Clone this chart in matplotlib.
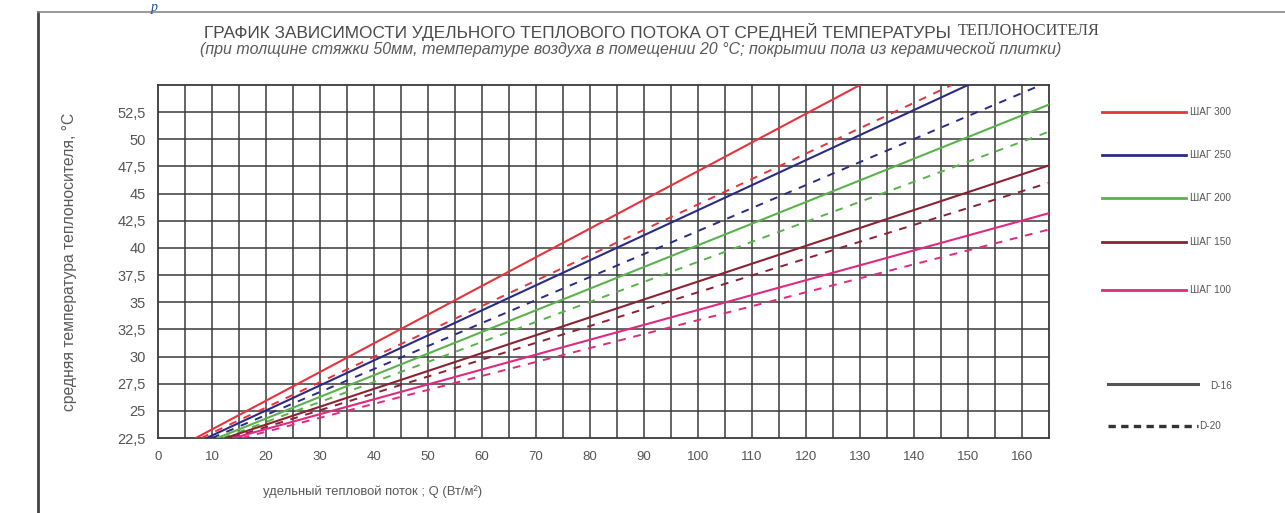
import matplotlib
matplotlib.use("Agg")
import matplotlib.pyplot as plt
from matplotlib.lines import Line2D

# ---- data ----
step_labels = ["ШАГ 300", "ШАГ 250", "ШАГ 200", "ШАГ 150", "ШАГ 100"]
colors = ["#e8323c", "#2b2b86", "#58b34a", "#8a2232", "#e2287f"]
# D-16 (solid): flux Q at two read points, and matching temperatures
d16_q = [[7.0, 130.0], [9.0, 150.0], [11.0, 165.0], [12.5, 165.0], [14.0, 165.0]]
d16_t = [[22.5, 55.0], [22.5, 55.0], [22.5, 53.2], [22.5, 47.6], [22.5, 43.2]]
# D-20 (dashed)
d20_q = [[8.0, 147.0], [10.0, 163.5], [12.0, 165.0], [13.5, 165.0], [15.5, 165.0]]
d20_t = [[22.5, 55.0], [22.5, 55.0], [22.5, 50.7], [22.5, 46.0], [22.5, 41.7]]
pipe_labels = ["D-16", "D-20"]

x_ticks = list(range(0, 161, 10))
y_ticks = [22.5, 25, 27.5, 30, 32.5, 35, 37.5, 40, 42.5, 45, 47.5, 50, 52.5]
y_tick_labels = ["22,5", "25", "27,5", "30", "32,5", "35", "37,5", "40", "42,5",
                 "45", "47,5", "50", "52,5"]

title_main = "ГРАФИК ЗАВИСИМОСТИ УДЕЛЬНОГО ТЕПЛОВОГО ПОТОКА ОТ СРЕДНЕЙ ТЕМПЕРАТУРЫ"
title_end = "ТЕПЛОНОСИТЕЛЯ"
subtitle = "(при толщине стяжки 50мм, температуре воздуха в помещении 20 °С; покрытии пола из керамической плитки)"
x_label = "удельный тепловой поток ; Q (Вт/м²)"
y_label = "средняя температура теплоносителя, °С"

W, H = 1285, 513
fig = plt.figure(figsize=(W / 100, H / 100), dpi=100)
fig.patch.set_facecolor("white")
renderer = fig.canvas.get_renderer()


def fx(px):
    return px / W


def fy(py):
    return 1 - py / H


def fit_text(x0, y0, s, width_px, rotation=0, **kw):
    """Place text and scale its font size so it spans width_px pixels."""
    t = fig.text(fx(x0), fy(y0), s, rotation=rotation, fontsize=10, **kw)
    bb = t.get_window_extent(renderer=renderer)
    cur = bb.height if rotation == 90 else bb.width
    t.set_fontsize(10 * width_px / cur)
    return t


ax = fig.add_axes([fx(158), fy(438), fx(1049) - fx(158), fy(85) - fy(438)])
ax.set_xlim(0, 165)
ax.set_ylim(22.5, 55)

# grid
for v in range(5, 165, 5):
    ax.axvline(v, color="#3a3a3a", lw=1.1, zorder=1)
for v in [25 + 2.5 * i for i in range(12)]:
    ax.axhline(v, color="#3a3a3a", lw=1.1, zorder=1)
for s in ax.spines.values():
    s.set_color("#3a3a3a")
    s.set_linewidth(1.3)

for i in range(5):
    ax.plot(d16_q[i], d16_t[i], color=colors[i], lw=1.5, zorder=3)
    ax.plot(d20_q[i], d20_t[i], color=colors[i], lw=1.4, ls=(0, (4, 4)), zorder=3)

ax.set_xticks(x_ticks)
ax.set_xticklabels([str(t) for t in x_ticks])
ax.set_yticks(y_ticks)
ax.set_yticklabels(y_tick_labels)
ax.tick_params(length=0, labelcolor="#555555")
ax.tick_params(axis="x", labelsize=9.5, pad=9)
ax.tick_params(axis="y", labelsize=10.5, pad=9)
for lab in ax.get_xticklabels() + ax.get_yticklabels():
    lab.set_fontfamily("Liberation Sans")

# titles
fit_text(204, 32, title_main, 748, color="#4a4a4a", family="Liberation Sans",
         va="center", ha="left")
fit_text(958, 31, title_end, 142, color="#4a4a4a", family="Liberation Serif",
         va="center", ha="left")
fit_text(200, 49, subtitle, 866, color="#5a5a5a", style="italic",
         family="Liberation Sans", va="center", ha="left")
fit_text(263, 492, x_label, 221, color="#5a5a5a", family="Liberation Sans",
         va="center", ha="left")
fit_text(70, 262, y_label, 300, rotation=90, color="#5a5a5a",
         family="Liberation Sans", va="center", ha="center")

# legend (drawn manually to match the reference layout)
leg_y = [112, 155, 198, 242, 290]
for i in range(5):
    fig.add_artist(Line2D([fx(1102), fx(1186)], [fy(leg_y[i]), fy(leg_y[i])],
                          color=colors[i], lw=2.0))
    fig.text(fx(1190), fy(leg_y[i]), step_labels[i], fontsize=7.2, color="#555555",
             family="Liberation Sans", va="center", ha="left")
fig.add_artist(Line2D([fx(1108), fx(1198)], [fy(384), fy(384)], color="#555555", lw=2.2))
fig.text(fx(1210), fy(386), pipe_labels[0], fontsize=7.2, color="#555555",
         family="Liberation Sans", va="center", ha="left")
fig.add_artist(Line2D([fx(1108), fx(1198)], [fy(426), fy(426)], color="#333333", lw=2.4,
                      ls=(0, (2.2, 1.6))))
fig.text(fx(1199), fy(426), pipe_labels[1], fontsize=7.2, color="#555555",
         family="Liberation Sans", va="center", ha="left")

# page frame and small heading letter above it
fig.add_artist(Line2D([fx(38), fx(38)], [fy(12), 0], color="#444444", lw=2.0))
fig.add_artist(Line2D([fx(38), 1], [fy(12), fy(12)], color="#888888", lw=1.2))
fig.text(fx(151), fy(1), "р", fontsize=10, color="#1f4e99", family="Liberation Serif",
         va="top", ha="left", style="italic")

fig.savefig("out.png", dpi=100, facecolor="white")
